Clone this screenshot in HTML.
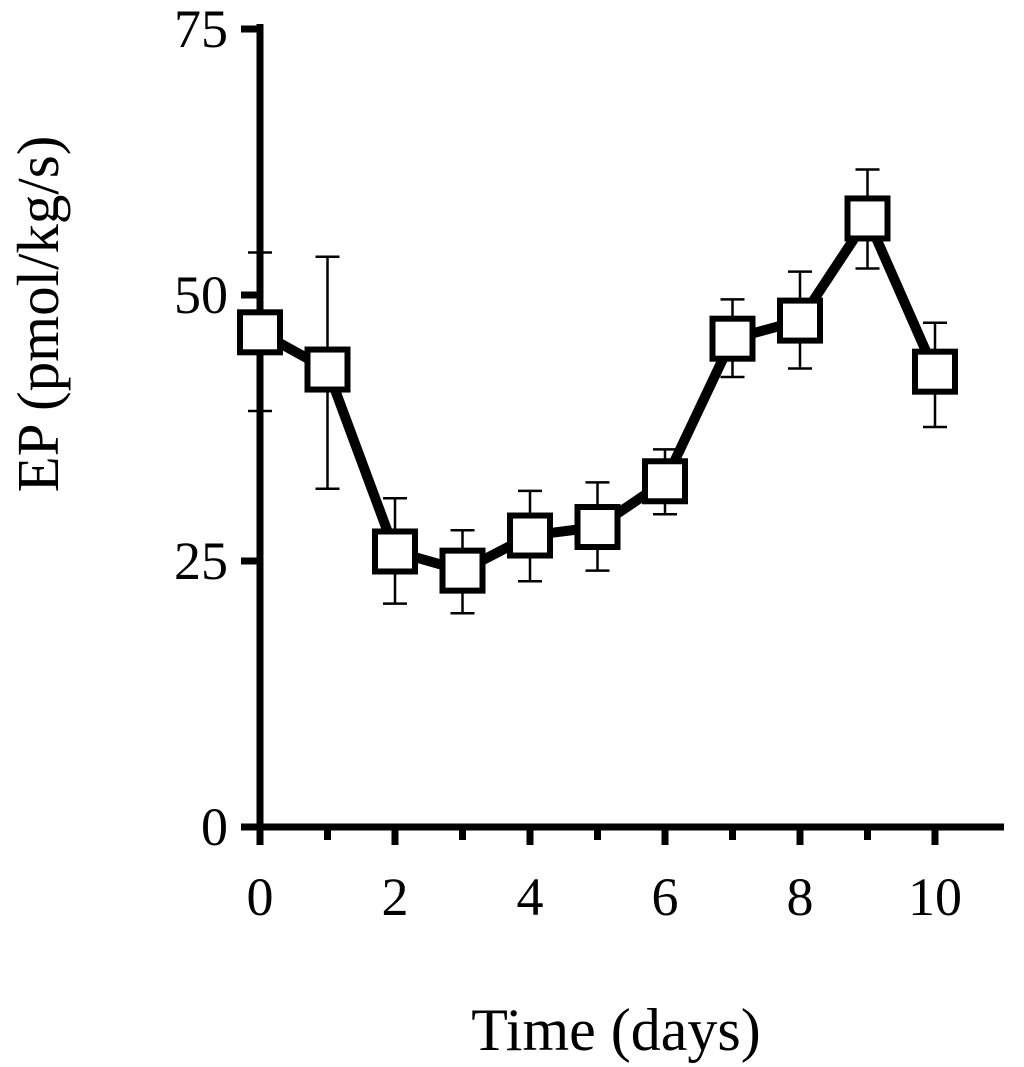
<!DOCTYPE html>
<html><head><meta charset="utf-8"><style>
html,body{margin:0;padding:0;background:#fff;}
svg{display:block;font-family:"Liberation Serif",serif;}
</style></head><body>
<svg id="chart" width="1024" height="1067" viewBox="0 0 1024 1067" xmlns="http://www.w3.org/2000/svg">
<g id="axes"></g>
<g id="marks"></g>
<text x="616" y="1050" font-size="60" text-anchor="middle">Time (days)</text>
<text transform="translate(58,314) rotate(-90)" font-size="59" text-anchor="middle">EP (pmol/kg/s)</text>
</svg>
<script>
const days=[0,1,2,3,4,5,6,7,8,9,10];
const epValues=[46.4,42.9,25.8,24.0,27.3,28.1,32.4,45.8,47.5,57.1,42.7];
const errUpper=[53.9,53.5,30.8,27.8,31.5,32.3,35.4,49.5,52.1,61.7,47.3];
const errLower=[39.0,31.7,20.9,20.0,23.0,24.0,29.3,42.2,43.0,52.4,37.5];
const yTicks=[0,25,50,75];
const xTicks=[0,2,4,6,8,10];
const xTicksMinor=[1,3,5,7,9];
const NS='http://www.w3.org/2000/svg';
const xS=v=>260+v*67.5;
const yS=v=>826-v*10.64;
function mk(tag,attrs,parent){const e=document.createElementNS(NS,tag);for(const k in attrs)e.setAttribute(k,attrs[k]);parent.appendChild(e);return e;}
const ax=document.getElementById('axes');
const m=document.getElementById('marks');
let e;
e=mk('line',{x1:260,y1:yS(75)-4,x2:260,y2:845,stroke:'#000','stroke-width':7},ax);


e=mk('line',{x1:241,y1:827,x2:1004,y2:827,stroke:'#000','stroke-width':7},ax);


yTicks.forEach(t=>{
 e=mk('line',{x1:241,y1:yS(t)+1,x2:260,y2:yS(t)+1,stroke:'#000','stroke-width':7},ax);
 
 
 e=mk('text',{x:228,y:yS(t)+19,'font-size':54,'text-anchor':'end'},ax);e.textContent=t;
 
 
});
xTicks.forEach(t=>{
 e=mk('line',{x1:xS(t),y1:827,x2:xS(t),y2:845,stroke:'#000','stroke-width':7},ax);
 
 
});
xTicksMinor.forEach(t=>{
 e=mk('line',{x1:xS(t),y1:827,x2:xS(t),y2:840,stroke:'#000','stroke-width':7},ax);
 
 
});
xTicks.forEach(t=>{
 e=mk('text',{x:xS(t),y:915,'font-size':54,'text-anchor':'middle'},ax);e.textContent=t;
 
 
});
days.forEach((d,i)=>{
 const x=xS(d);
 e=mk('path',{d:`M${x},${yS(errUpper[i])}V${yS(errLower[i])}M${x-12},${yS(errUpper[i])}H${x+12}M${x-12},${yS(errLower[i])}H${x+12}`,stroke:'#000','stroke-width':2.5,fill:'none'},m);
 
 
});
e=mk('polyline',{points:days.map((d,i)=>xS(d)+','+yS(epValues[i])).join(' '),stroke:'#000','stroke-width':10,fill:'none','stroke-linejoin':'round'},m);


days.forEach((d,i)=>{
 e=mk('rect',{x:xS(d)-20,y:yS(epValues[i])-20,width:40,height:40,fill:'#fff',stroke:'#000','stroke-width':6},m);
 
 
});
</script>
</body></html>
